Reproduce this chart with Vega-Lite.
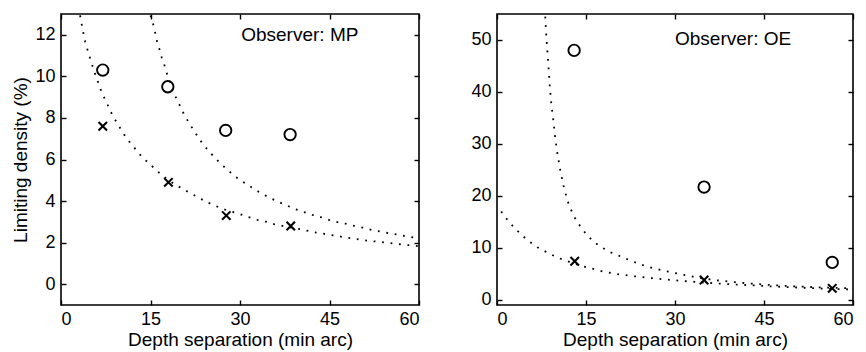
{
  "$schema": "https://vega.github.io/schema/vega-lite/v6.json",
  "padding": {"left": 11, "top": 12, "right": 5, "bottom": 0},
  "background": "white",
  "config": {
    "view": {"stroke": "black", "strokeWidth": 1.6},
    "font": "Liberation Sans",
    "axis": {"grid": false, "domain": false, "tickColor": "black", "tickSize": -5, "tickWidth": 1.4, "labelColor": "black", "titleColor": "black", "labelFont": "Liberation Sans", "titleFont": "Liberation Sans", "labelFontSize": 18, "titleFontSize": 19, "titleFontWeight": "normal"},
    "concat": {"spacing": 49}
  },
  "datasets": {
    "mpCurves": [
      {"x": 3.2, "y": 12.93, "curve": "a"}, {"x": 3.5, "y": 12.45, "curve": "a"}, {"x": 3.75, "y": 12.08, "curve": "a"}, {"x": 4.07, "y": 11.65, "curve": "a"}, {"x": 4.47, "y": 11.25, "curve": "a"}, {"x": 4.86, "y": 10.88, "curve": "a"}, {"x": 5.3, "y": 10.49, "curve": "a"}, {"x": 5.75, "y": 10.09, "curve": "a"}, {"x": 6.25, "y": 9.69, "curve": "a"}, {"x": 6.75, "y": 9.29, "curve": "a"}, {"x": 7.37, "y": 8.89, "curve": "a"}, {"x": 8.0, "y": 8.52, "curve": "a"}, {"x": 8.6, "y": 8.14, "curve": "a"}, {"x": 9.33, "y": 7.79, "curve": "a"}, {"x": 10.1, "y": 7.42, "curve": "a"}, {"x": 10.9, "y": 7.06, "curve": "a"}, {"x": 11.8, "y": 6.73, "curve": "a"}, {"x": 12.7, "y": 6.43, "curve": "a"}, {"x": 13.6, "y": 6.11, "curve": "a"}, {"x": 15.0, "y": 5.75, "curve": "a"}, {"x": 16.5, "y": 5.35, "curve": "a"}, {"x": 18.0, "y": 5.0, "curve": "a"}, {"x": 20.0, "y": 4.65, "curve": "a"}, {"x": 22.0, "y": 4.33, "curve": "a"}, {"x": 23.3, "y": 4.13, "curve": "a"}, {"x": 24.5, "y": 3.94, "curve": "a"}, {"x": 25.8, "y": 3.78, "curve": "a"}, {"x": 27.2, "y": 3.61, "curve": "a"}, {"x": 30.0, "y": 3.37, "curve": "a"}, {"x": 31.4, "y": 3.23, "curve": "a"}, {"x": 32.9, "y": 3.1, "curve": "a"}, {"x": 34.3, "y": 3.01, "curve": "a"}, {"x": 35.7, "y": 2.89, "curve": "a"}, {"x": 38.0, "y": 2.75, "curve": "a"}, {"x": 40.0, "y": 2.65, "curve": "a"}, {"x": 42.8, "y": 2.48, "curve": "a"}, {"x": 45.7, "y": 2.35, "curve": "a"}, {"x": 48.7, "y": 2.2, "curve": "a"}, {"x": 51.6, "y": 2.09, "curve": "a"}, {"x": 54.6, "y": 2.0, "curve": "a"}, {"x": 57.5, "y": 1.9, "curve": "a"}, {"x": 60.0, "y": 1.83, "curve": "a"},
      {"x": 15.0, "y": 12.93, "curve": "b"}, {"x": 15.47, "y": 12.48, "curve": "b"}, {"x": 15.8, "y": 12.08, "curve": "b"}, {"x": 16.1, "y": 11.68, "curve": "b"}, {"x": 16.5, "y": 11.3, "curve": "b"}, {"x": 16.9, "y": 10.88, "curve": "b"}, {"x": 17.4, "y": 10.49, "curve": "b"}, {"x": 17.8, "y": 10.09, "curve": "b"}, {"x": 18.3, "y": 9.69, "curve": "b"}, {"x": 18.8, "y": 9.29, "curve": "b"}, {"x": 19.4, "y": 8.89, "curve": "b"}, {"x": 20.05, "y": 8.52, "curve": "b"}, {"x": 20.65, "y": 8.16, "curve": "b"}, {"x": 21.4, "y": 7.79, "curve": "b"}, {"x": 22.2, "y": 7.42, "curve": "b"}, {"x": 23.0, "y": 7.06, "curve": "b"}, {"x": 23.8, "y": 6.73, "curve": "b"}, {"x": 24.7, "y": 6.43, "curve": "b"}, {"x": 25.7, "y": 6.11, "curve": "b"}, {"x": 26.8, "y": 5.78, "curve": "b"}, {"x": 27.9, "y": 5.51, "curve": "b"}, {"x": 29.0, "y": 5.22, "curve": "b"}, {"x": 30.2, "y": 4.98, "curve": "b"}, {"x": 31.4, "y": 4.76, "curve": "b"}, {"x": 32.6, "y": 4.53, "curve": "b"}, {"x": 33.9, "y": 4.32, "curve": "b"}, {"x": 35.2, "y": 4.13, "curve": "b"}, {"x": 36.6, "y": 3.94, "curve": "b"}, {"x": 37.9, "y": 3.78, "curve": "b"}, {"x": 39.3, "y": 3.61, "curve": "b"}, {"x": 40.7, "y": 3.47, "curve": "b"}, {"x": 42.1, "y": 3.34, "curve": "b"}, {"x": 43.5, "y": 3.23, "curve": "b"}, {"x": 44.9, "y": 3.1, "curve": "b"}, {"x": 46.3, "y": 2.99, "curve": "b"}, {"x": 47.7, "y": 2.91, "curve": "b"}, {"x": 49.1, "y": 2.81, "curve": "b"}, {"x": 50.6, "y": 2.72, "curve": "b"}, {"x": 52.0, "y": 2.62, "curve": "b"}, {"x": 53.4, "y": 2.54, "curve": "b"}, {"x": 54.8, "y": 2.46, "curve": "b"}, {"x": 56.2, "y": 2.4, "curve": "b"}, {"x": 57.7, "y": 2.31, "curve": "b"}, {"x": 59.0, "y": 2.25, "curve": "b"}, {"x": 60.0, "y": 2.2, "curve": "b"}
    ],
    "mpPts": [
      {"x": 7.0, "y": 10.3, "type": "circle"}, {"x": 17.9, "y": 9.5, "type": "circle"}, {"x": 27.6, "y": 7.4, "type": "circle"}, {"x": 38.4, "y": 7.2, "type": "circle"},
      {"x": 7.0, "y": 7.6, "type": "cross"}, {"x": 18.0, "y": 4.9, "type": "cross"}, {"x": 27.7, "y": 3.3, "type": "cross"}, {"x": 38.5, "y": 2.8, "type": "cross"}
    ],
    "mpLabel": [{"x": 30.2, "y": 12.0, "label": "Observer: MP"}],
    "oeCurves": [
      {"x": 8.13, "y": 54.5, "curve": "c"}, {"x": 8.3, "y": 51.0, "curve": "c"}, {"x": 8.5, "y": 47.7, "curve": "c"}, {"x": 8.7, "y": 44.5, "curve": "c"}, {"x": 8.9, "y": 41.0, "curve": "c"}, {"x": 9.15, "y": 37.8, "curve": "c"}, {"x": 9.5, "y": 34.5, "curve": "c"}, {"x": 9.8, "y": 31.2, "curve": "c"}, {"x": 10.2, "y": 28.0, "curve": "c"}, {"x": 10.7, "y": 24.7, "curve": "c"}, {"x": 11.3, "y": 21.5, "curve": "c"}, {"x": 12.1, "y": 18.3, "curve": "c"}, {"x": 13.0, "y": 16.0, "curve": "c"}, {"x": 14.0, "y": 14.2, "curve": "c"}, {"x": 15.2, "y": 12.4, "curve": "c"}, {"x": 16.5, "y": 11.0, "curve": "c"}, {"x": 17.8, "y": 10.0, "curve": "c"}, {"x": 19.0, "y": 9.2, "curve": "c"}, {"x": 20.5, "y": 8.5, "curve": "c"}, {"x": 22.0, "y": 7.8, "curve": "c"}, {"x": 23.5, "y": 7.1, "curve": "c"}, {"x": 25.0, "y": 6.5, "curve": "c"}, {"x": 27.0, "y": 5.9, "curve": "c"}, {"x": 29.0, "y": 5.4, "curve": "c"}, {"x": 31.0, "y": 4.9, "curve": "c"}, {"x": 33.0, "y": 4.45, "curve": "c"}, {"x": 35.0, "y": 4.05, "curve": "c"}, {"x": 37.5, "y": 3.7, "curve": "c"}, {"x": 40.0, "y": 3.4, "curve": "c"}, {"x": 43.0, "y": 3.1, "curve": "c"}, {"x": 46.0, "y": 2.85, "curve": "c"}, {"x": 50.0, "y": 2.6, "curve": "c"}, {"x": 54.0, "y": 2.4, "curve": "c"}, {"x": 57.0, "y": 2.3, "curve": "c"}, {"x": 60.0, "y": 2.2, "curve": "c"},
      {"x": 0.7, "y": 17.0, "curve": "d"}, {"x": 2.0, "y": 15.0, "curve": "d"}, {"x": 3.5, "y": 13.2, "curve": "d"}, {"x": 5.0, "y": 11.6, "curve": "d"}, {"x": 6.8, "y": 10.1, "curve": "d"}, {"x": 8.8, "y": 8.9, "curve": "d"}, {"x": 10.5, "y": 8.0, "curve": "d"}, {"x": 12.2, "y": 7.3, "curve": "d"}, {"x": 14.0, "y": 6.6, "curve": "d"}, {"x": 16.0, "y": 6.0, "curve": "d"}, {"x": 18.0, "y": 5.4, "curve": "d"}, {"x": 20.0, "y": 5.0, "curve": "d"}, {"x": 22.5, "y": 4.6, "curve": "d"}, {"x": 25.0, "y": 4.3, "curve": "d"}, {"x": 28.0, "y": 3.95, "curve": "d"}, {"x": 31.0, "y": 3.65, "curve": "d"}, {"x": 34.0, "y": 3.4, "curve": "d"}, {"x": 37.0, "y": 3.15, "curve": "d"}, {"x": 40.0, "y": 2.95, "curve": "d"}, {"x": 43.0, "y": 2.8, "curve": "d"}, {"x": 46.0, "y": 2.6, "curve": "d"}, {"x": 49.0, "y": 2.45, "curve": "d"}, {"x": 52.0, "y": 2.3, "curve": "d"}, {"x": 55.0, "y": 2.15, "curve": "d"}, {"x": 58.0, "y": 2.05, "curve": "d"}, {"x": 60.0, "y": 2.0, "curve": "d"}
    ],
    "oePts": [
      {"x": 13.0, "y": 48.0, "type": "circle"}, {"x": 34.9, "y": 21.7, "type": "circle"}, {"x": 56.5, "y": 7.2, "type": "circle"},
      {"x": 13.1, "y": 7.4, "type": "cross"}, {"x": 34.9, "y": 3.8, "type": "cross"}, {"x": 56.5, "y": 2.2, "type": "cross"}
    ],
    "oeLabel": [{"x": 30.0, "y": 50.1, "label": "Observer: OE"}]
  },
  "hconcat": [
    {
      "width": 358,
      "height": 291,
      "layer": [
        {
          "data": {"name": "mpCurves"},
          "mark": {"type": "line", "color": "black", "strokeWidth": 1.8, "strokeDash": [1.8, 6.7], "clip": true},
          "encoding": {
            "x": {"field": "x", "type": "quantitative", "scale": {"domain": [0, 60], "nice": false}, "axis": {"orient": "bottom", "values": [0, 15, 30, 45, 60], "title": "Depth separation (min arc)", "labelPadding": 10, "titlePadding": 2}},
            "y": {"field": "y", "type": "quantitative", "scale": {"domain": [-1, 13], "nice": false, "zero": false}, "axis": {"orient": "left", "values": [0, 2, 4, 6, 8, 10, 12], "title": "Limiting density (%)", "labelPadding": 11, "titlePadding": 4}},
            "detail": {"field": "curve"}
          }
        },
        {
          "data": {"name": "mpPts"},
          "transform": [{"filter": "datum.type === 'circle'"}],
          "mark": {"type": "point", "shape": "circle", "size": 130, "filled": false, "color": "black", "strokeWidth": 1.9, "opacity": 1},
          "encoding": {
            "x": {"field": "x", "type": "quantitative", "axis": {"orient": "top", "values": [0, 15, 30, 45, 60], "labels": false, "title": null}},
            "y": {"field": "y", "type": "quantitative", "axis": {"orient": "right", "values": [0, 2, 4, 6, 8, 10, 12], "labels": false, "title": null}}
          }
        },
        {
          "data": {"name": "mpPts"},
          "transform": [{"filter": "datum.type === 'cross'"}],
          "mark": {"type": "point", "shape": "M-1,-1L1,1M-1,1L1,-1", "size": 72, "filled": false, "color": "black", "strokeWidth": 2.1, "opacity": 1},
          "encoding": {
            "x": {"field": "x", "type": "quantitative", "axis": null},
            "y": {"field": "y", "type": "quantitative", "axis": null}
          }
        },
        {
          "data": {"name": "mpLabel"},
          "mark": {"type": "text", "align": "left", "baseline": "middle", "fontSize": 19, "font": "Liberation Sans", "color": "black"},
          "encoding": {
            "x": {"field": "x", "type": "quantitative", "axis": null},
            "y": {"field": "y", "type": "quantitative", "axis": null},
            "text": {"field": "label"}
          }
        }
      ],
      "resolve": {"axis": {"x": "independent", "y": "independent"}}
    },
    {
      "width": 356,
      "height": 291,
      "layer": [
        {
          "data": {"name": "oeCurves"},
          "mark": {"type": "line", "color": "black", "strokeWidth": 1.8, "strokeDash": [1.8, 6.7], "clip": true},
          "encoding": {
            "x": {"field": "x", "type": "quantitative", "scale": {"domain": [0, 60], "nice": false}, "axis": {"orient": "bottom", "values": [0, 15, 30, 45, 60], "title": "Depth separation (min arc)", "labelPadding": 10, "titlePadding": 2}},
            "y": {"field": "y", "type": "quantitative", "scale": {"domain": [-1, 55], "nice": false, "zero": false}, "axis": {"orient": "left", "values": [0, 10, 20, 30, 40, 50], "title": null, "labelPadding": 11}},
            "detail": {"field": "curve"}
          }
        },
        {
          "data": {"name": "oePts"},
          "transform": [{"filter": "datum.type === 'circle'"}],
          "mark": {"type": "point", "shape": "circle", "size": 130, "filled": false, "color": "black", "strokeWidth": 1.9, "opacity": 1},
          "encoding": {
            "x": {"field": "x", "type": "quantitative", "axis": {"orient": "top", "values": [0, 15, 30, 45, 60], "labels": false, "title": null}},
            "y": {"field": "y", "type": "quantitative", "axis": {"orient": "right", "values": [0, 10, 20, 30, 40, 50], "labels": false, "title": null}}
          }
        },
        {
          "data": {"name": "oePts"},
          "transform": [{"filter": "datum.type === 'cross'"}],
          "mark": {"type": "point", "shape": "M-1,-1L1,1M-1,1L1,-1", "size": 72, "filled": false, "color": "black", "strokeWidth": 2.1, "opacity": 1},
          "encoding": {
            "x": {"field": "x", "type": "quantitative", "axis": null},
            "y": {"field": "y", "type": "quantitative", "axis": null}
          }
        },
        {
          "data": {"name": "oeLabel"},
          "mark": {"type": "text", "align": "left", "baseline": "middle", "fontSize": 19, "font": "Liberation Sans", "color": "black"},
          "encoding": {
            "x": {"field": "x", "type": "quantitative", "axis": null},
            "y": {"field": "y", "type": "quantitative", "axis": null},
            "text": {"field": "label"}
          }
        }
      ],
      "resolve": {"axis": {"x": "independent", "y": "independent"}}
    }
  ]
}
